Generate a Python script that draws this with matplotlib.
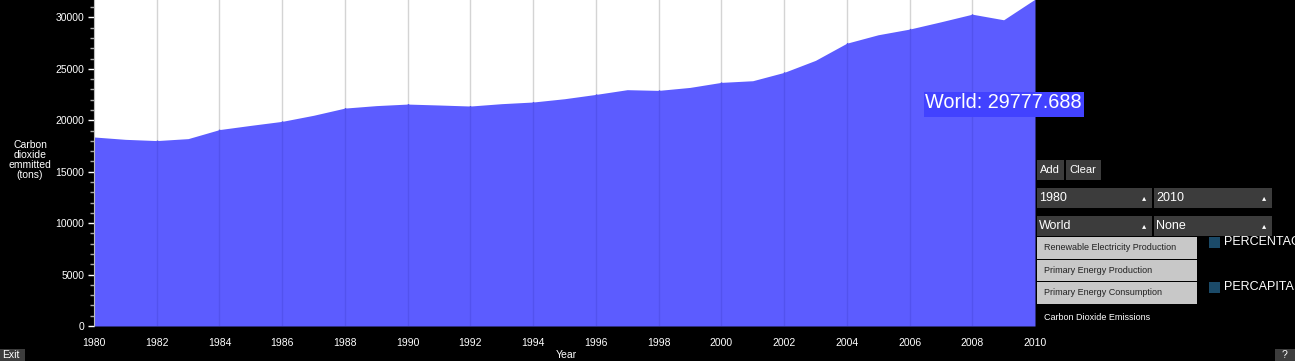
import numpy as np
import matplotlib
matplotlib.use("Agg")
import matplotlib.pyplot as plt
from matplotlib.patches import Rectangle

plt.rcParams['font.family'] = ['Liberation Sans', 'DejaVu Sans']

# World CO2 emissions
years = np.arange(1980, 2011)
emissions = [18380, 18150, 18030, 18220, 19100, 19510, 19900, 20490, 21190, 21430,
             21580, 21490, 21390, 21620, 21780, 22100, 22520, 22980, 22910, 23200,
             23690, 23850, 24660, 25830, 27500, 28320, 28870, 29580, 30320, 29777.688,
             31780]
xticks = list(range(1980, 2011, 2))
yticks = [0, 5000, 10000, 15000, 20000, 25000, 30000]
menu_items = ["Renewable Electricity Production", "Primary Energy Production",
              "Primary Energy Consumption"]
selected_item = "Carbon Dioxide Emissions"
legend_items = ["PERCENTAGE", "PERCAPITA"]

W, H = 1295, 361
fig = plt.figure(figsize=(W / 100, H / 100), dpi=100, facecolor="black")


def px(x, y, w=0, h=0):
    """pixel box (top-left origin) -> figure fraction (left, bottom, width, height)"""
    return x / W, 1 - (y + h) / H, w / W, h / H


ax = fig.add_axes(px(94, 0, 941, 326))
ax.set_facecolor("white")
area = ax.fill_between(years, emissions, color="#5c5cff", lw=0, zorder=1)
for yr in xticks[1:-1]:
    ax.axvline(yr, color="#d4d4d4", lw=1, zorder=0)
    ln = ax.axvline(yr, color="#5252ee", lw=1, zorder=2)
    ln.set_clip_path(area.get_paths()[0], ax.transData)
ax.set_xlim(1980, 2010)
ax.set_ylim(0, 31700)
ax.set_xticks(xticks)
ax.set_yticks(yticks)
ax.set_yticks(np.arange(0, 31701, 1000), minor=True)
ax.tick_params(axis="x", length=0, pad=9, colors="white", labelsize=7.5)
ax.tick_params(axis="y", which="major", length=4, width=1, colors="white", labelsize=7.5, pad=3)
ax.tick_params(axis="y", which="minor", length=3, width=1, colors="#aaaaaa")
for side in ["top", "right", "bottom"]:
    ax.spines[side].set_visible(False)
ax.spines["left"].set_color("#bbbbbb")

fig.text(30 / W, 1 - 160 / H, "Carbon\ndioxide\nemmitted\n(tons)", color="white",
         fontsize=7.5, ha="center", va="center", linespacing=1.0)
fig.text(566 / W, 1 - 355 / H, "Year", color="white", fontsize=7.5, ha="center", va="center")

# hover label
fig.add_artist(Rectangle(px(924, 92, 160, 25)[:2], 160 / W, 25 / H,
                         transform=fig.transFigure, color="#4242ff", lw=0))
fig.text(925 / W, 1 - 103 / H, "World: 29777.688", color="white", fontsize=14.3,
         ha="left", va="center")


def box(x, y, w, h, label, fc="#3c3c3c", tc="white", size=8, arrow=False, tx=4):
    fig.add_artist(Rectangle(px(x, y, w, h)[:2], w / W, h / H, transform=fig.transFigure,
                             color=fc, lw=0))
    if label:
        fig.text((x + tx) / W, 1 - (y + h / 2) / H, label, color=tc, fontsize=size,
                 ha="left", va="center")
    if arrow:
        fig.text((x + w - 8) / W, 1 - (y + h / 2) / H, "\u25b4", color="white",
                 fontsize=6, ha="center", va="center", family="DejaVu Sans")


box(1037, 160, 27, 20, "Add", size=8, tx=3)
box(1066, 160, 35, 20, "Clear", size=8, tx=3)
box(1037, 188, 115, 20, "1980", size=9, arrow=True, tx=2)
box(1154, 188, 118, 20, "2010", size=9, arrow=True, tx=2)
box(1037, 216, 115, 20, "World", size=9, arrow=True, tx=2)
box(1154, 216, 118, 20, "None", size=9, arrow=True, tx=2)
for i, item in enumerate(menu_items):
    box(1037, 237 + i * 22.5, 160, 21.5, item, fc="#c8c8c8", tc="#222222", size=6.5, tx=7)
fig.text(1044 / W, 1 - 317 / H, selected_item, color="white", fontsize=6.5,
         ha="left", va="center")

for i, item in enumerate(legend_items):
    yy = 237 + i * 45
    fig.add_artist(Rectangle(px(1209, yy, 11, 11)[:2], 11 / W, 11 / H,
                             transform=fig.transFigure, color="#1b4a68", lw=0))
    fig.text(1224 / W, 1 - (yy + 5) / H, item, color="white", fontsize=9,
             ha="left", va="center")

box(0, 349, 25, 12, "Exit", size=7.5, tx=2)
box(1275, 349, 20, 12, "?", size=7.5, tx=7)

fig.savefig("out.png", dpi=100, facecolor="black")
